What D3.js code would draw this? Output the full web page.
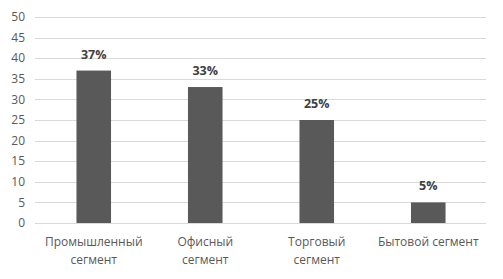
<!DOCTYPE html>
<html>
<head>
<meta charset="utf-8">
<script src="https://cdn.jsdelivr.net/npm/d3@7"></script>
<style>
  body { margin: 0; background: #fff; }
  text { font-family: "Open Sans", sans-serif; }
</style>
</head>
<body>
<div id="chart"></div>
<script>
// Data:
var categories = ["Промышленный сегмент", "Офисный сегмент", "Торговый сегмент", "Бытовой сегмент"];
var categoryLines = [["Промышленный", "сегмент"], ["Офисный", "сегмент"], ["Торговый", "сегмент"], ["Бытовой сегмент"]];
var values = [37, 33, 25, 5];
var valueLabels = ["37%", "33%", "25%", "5%"];
var yTicks = [0, 5, 10, 15, 20, 25, 30, 35, 40, 45, 50];

// Constants:
var W = 503, H = 279;
var plot = { left: 38, right: 484, top: 17, bottom: 223 };

var svg = d3.select("#chart").append("svg")
  .attr("width", W)
  .attr("height", H);

var x = d3.scaleBand()
  .domain(categories)
  .range([plot.left, plot.right])
  .paddingInner(0.69)
  .paddingOuter(0.345);

var y = d3.scaleLinear()
  .domain([0, 50])
  .range([plot.bottom, plot.top]);

// Gridlines
svg.append("g").selectAll("line")
  .data(yTicks)
  .enter().append("line")
  .attr("x1", 35).attr("x2", 486)
  .attr("y1", function(d) { return Math.round(y(d)) + 0.5; })
  .attr("y2", function(d) { return Math.round(y(d)) + 0.5; })
  .attr("stroke", "#d9d9d9")
  .attr("stroke-width", 1);

// Y tick labels
svg.append("g").selectAll("text")
  .data(yTicks)
  .enter().append("text")
  .attr("x", 25)
  .attr("y", function(d) { return y(d); })
  .attr("dy", "0.35em")
  .attr("text-anchor", "end")
  .attr("font-size", 12)
  .attr("fill", "#595959")
  .text(function(d) { return d; });

// Bars
svg.append("g").selectAll("rect")
  .data(values)
  .enter().append("rect")
  .attr("x", function(d, i) { return x(categories[i]); })
  .attr("y", function(d) { return y(d); })
  .attr("width", x.bandwidth())
  .attr("height", function(d) { return y(0) - y(d); })
  .attr("fill", "#595959");

// Value labels
svg.append("g").selectAll("text")
  .data(values)
  .enter().append("text")
  .attr("x", function(d, i) { return x(categories[i]) + x.bandwidth() / 2; })
  .attr("y", function(d) { return y(d) - 12; })
  .attr("text-anchor", "middle")
  .attr("font-size", 12.5)
  .attr("font-weight", "bold")
  .attr("fill", "#404040")
  .text(function(d, i) { return valueLabels[i]; });

// Category labels (line breaks as in the original)
var catText = svg.append("g").selectAll("text")
  .data(categories)
  .enter().append("text")
  .attr("x", function(d) { return x(d) + x.bandwidth() / 2; })
  .attr("y", 246)
  .attr("text-anchor", "middle")
  .attr("font-size", 12)
  .attr("fill", "#595959");

catText.each(function(d, i) {
  var t = d3.select(this);
  t.selectAll("tspan")
    .data(categoryLines[i])
    .enter().append("tspan")
    .attr("x", t.attr("x"))
    .attr("dy", function(l, j) { return j === 0 ? 0 : 18; })
    .text(function(l) { return l; });
});
</script>
</body>
</html>
